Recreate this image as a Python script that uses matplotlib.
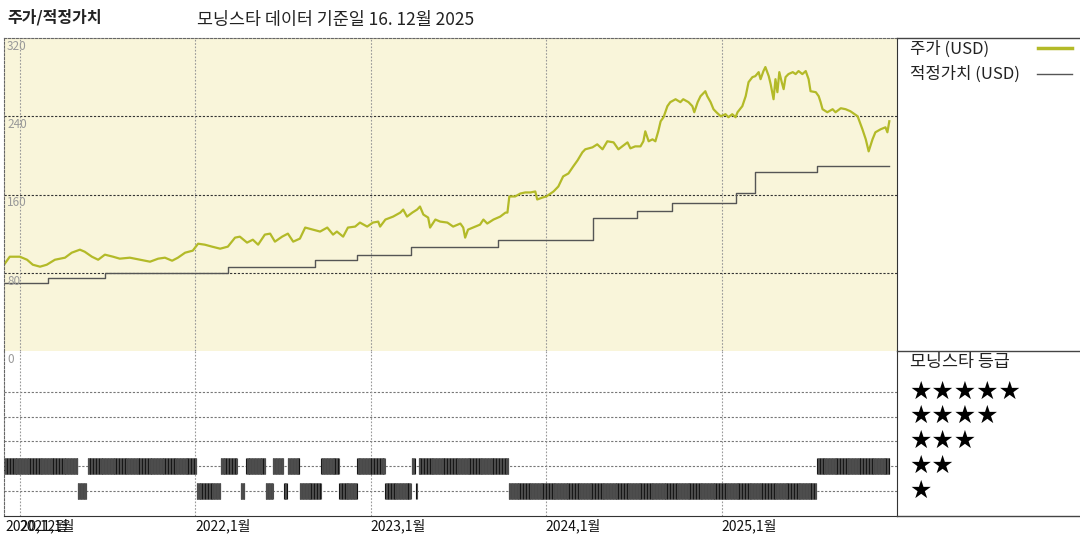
import numpy as np
import pandas as pd
import matplotlib
matplotlib.use("Agg")
import matplotlib.pyplot as plt
import matplotlib.dates as mdates
from matplotlib.lines import Line2D
from matplotlib.transforms import blended_transform_factory

plt.rcParams["font.family"] = ["Noto Sans CJK KR", "DejaVu Sans"]

# share price (USD)
price_dates = [
    "2020-11-29", "2020-12-11", "2021-01-01", "2021-01-16", "2021-01-28", "2021-02-12",
    "2021-02-26", "2021-03-15", "2021-04-05", "2021-04-19", "2021-05-06", "2021-05-16",
    "2021-05-31", "2021-06-13", "2021-06-27", "2021-07-14", "2021-07-28", "2021-08-18",
    "2021-09-08", "2021-09-29", "2021-10-16", "2021-10-30", "2021-11-14", "2021-11-26",
    "2021-12-11", "2021-12-27", "2022-01-07", "2022-01-21", "2022-02-05", "2022-02-22",
    "2022-03-10", "2022-03-25", "2022-04-04", "2022-04-19", "2022-05-01", "2022-05-12",
    "2022-05-26", "2022-06-06", "2022-06-16", "2022-07-01", "2022-07-13", "2022-07-24",
    "2022-08-07", "2022-08-18", "2022-09-03", "2022-09-18", "2022-10-03", "2022-10-15",
    "2022-10-23", "2022-11-05", "2022-11-15", "2022-11-30", "2022-12-10", "2022-12-25",
    "2023-01-06", "2023-01-17", "2023-01-21", "2023-02-01", "2023-02-17", "2023-03-04",
    "2023-03-10", "2023-03-18", "2023-03-29", "2023-04-08", "2023-04-14", "2023-04-21",
    "2023-05-01", "2023-05-05", "2023-05-16", "2023-05-26", "2023-06-10", "2023-06-22",
    "2023-07-07", "2023-07-13", "2023-07-17", "2023-07-23", "2023-08-07", "2023-08-17",
    "2023-08-24", "2023-09-01", "2023-09-14", "2023-09-28", "2023-10-09", "2023-10-13",
    "2023-10-17", "2023-10-29", "2023-11-09", "2023-11-19", "2023-11-30", "2023-12-10",
    "2023-12-14", "2023-12-25", "2024-01-02", "2024-01-17", "2024-01-27", "2024-02-06",
    "2024-02-17", "2024-02-27", "2024-03-07", "2024-03-17", "2024-03-23", "2024-04-07",
    "2024-04-17", "2024-04-28", "2024-05-08", "2024-05-21", "2024-05-31", "2024-06-08",
    "2024-06-19", "2024-06-25", "2024-07-05", "2024-07-16", "2024-07-22", "2024-07-26",
    "2024-08-02", "2024-08-10", "2024-08-16", "2024-08-22", "2024-08-27", "2024-09-02",
    "2024-09-10", "2024-09-16", "2024-09-27", "2024-10-07", "2024-10-13", "2024-10-24",
    "2024-11-01", "2024-11-05", "2024-11-12", "2024-11-18", "2024-11-28", "2024-12-02",
    "2024-12-09", "2024-12-15", "2024-12-21", "2024-12-30", "2025-01-09", "2025-01-15",
    "2025-01-23", "2025-01-30", "2025-02-03", "2025-02-13", "2025-02-20", "2025-02-26",
    "2025-03-06", "2025-03-12", "2025-03-19", "2025-03-23", "2025-03-29", "2025-04-02",
    "2025-04-09", "2025-04-13", "2025-04-19", "2025-04-23", "2025-04-27", "2025-05-01",
    "2025-05-06", "2025-05-10", "2025-05-14", "2025-05-20", "2025-05-29", "2025-06-04",
    "2025-06-10", "2025-06-18", "2025-06-25", "2025-07-01", "2025-07-05", "2025-07-16",
    "2025-07-22", "2025-07-26", "2025-07-30", "2025-08-09", "2025-08-20", "2025-08-26",
    "2025-09-06", "2025-09-16", "2025-09-26", "2025-10-11", "2025-10-21", "2025-10-28",
    "2025-11-03", "2025-11-11", "2025-11-17", "2025-11-28", "2025-12-08", "2025-12-12",
    "2025-12-16",
]
price_values = [
    88.2, 96.4, 96.4, 93.3, 88.2, 86.2,
    88.2, 93.3, 95.4, 100.5, 103.6, 101.5,
    96.4, 93.3, 98.5, 96.4, 94.4, 95.4,
    93.3, 91.3, 94.4, 95.4, 92.3, 95.4,
    100.5, 102.6, 109.7, 108.7, 106.7, 104.6,
    106.7, 115.9, 116.9, 110.8, 113.8, 108.7,
    119.0, 120.0, 111.8, 116.9, 120.0, 111.8,
    114.9, 126.2, 124.1, 122.1, 126.2, 119.0,
    122.1, 116.9, 126.2, 127.2, 131.3, 127.2,
    131.3, 132.3, 127.2, 134.4, 137.4, 141.5,
    144.6, 137.4, 141.5, 144.6, 147.7, 139.5,
    136.4, 126.2, 134.4, 132.3, 131.3, 127.2,
    130.3, 126.2, 115.9, 124.1, 127.2, 129.2,
    134.4, 130.3, 134.4, 137.4, 141.5, 141.5,
    158.0, 158.0, 161.0, 162.1, 162.1, 163.1,
    154.9, 156.9, 158.0, 163.1, 168.2, 178.5,
    181.5, 188.7, 194.9, 203.1, 206.2, 208.2,
    211.3, 206.2, 214.4, 213.3, 206.2, 209.2,
    213.3, 207.2, 209.2, 209.2, 214.4, 224.6,
    214.4, 216.4, 214.4, 224.6, 234.9, 239.0,
    250.3, 254.4, 257.4, 254.4, 257.4, 254.4,
    250.3, 244.1, 254.4, 260.5, 265.6, 260.5,
    254.4, 247.2, 244.1, 240.0, 242.1, 239.0,
    242.1, 239.0, 244.1, 250.3, 260.5, 274.9,
    280.0, 281.0, 285.1, 277.9, 286.2, 290.3,
    281.0, 272.8, 257.4, 277.9, 264.6, 285.1,
    274.9, 267.7, 280.0, 283.1, 285.1, 283.1,
    286.2, 283.1, 286.2, 277.9, 265.6, 264.6,
    260.5, 254.4, 247.2, 244.1, 247.2, 244.1,
    248.2, 247.2, 245.1, 240.0, 226.7, 216.4,
    204.1, 216.4, 223.6, 226.7, 228.7, 223.6,
    234.9,
]

# fair value (USD), step changes
fair_dates = [
    "2020-11-29", "2021-02-28", "2021-06-27", "2022-03-10", "2022-09-08", "2022-12-04",
    "2023-03-26", "2023-09-23", "2024-04-08", "2024-07-09", "2024-09-20", "2025-01-30",
    "2025-03-12", "2025-07-19", "2025-12-16",
]
fair_values = [70, 75, 80, 86, 93, 98.5, 106.7, 113.8, 136.4, 143, 150.8, 162, 182.6, 188.7, 188.7]

# Morningstar star rating periods
rating_start = [
    "2020-11-30", "2021-05-02", "2021-05-22", "2022-01-04", "2022-02-23", "2022-04-06",
    "2022-04-17", "2022-05-28", "2022-06-12", "2022-07-05", "2022-07-13", "2022-08-07",
    "2022-09-20", "2022-10-28", "2022-12-04", "2023-02-01", "2023-03-28", "2023-04-06",
    "2023-04-11", "2023-10-16", "2025-07-19",
]
rating_end = [
    "2021-05-01", "2021-05-19", "2022-01-03", "2022-02-22", "2022-03-29", "2022-04-13",
    "2022-05-27", "2022-06-11", "2022-07-03", "2022-07-11", "2022-08-06", "2022-09-19",
    "2022-10-27", "2022-12-03", "2023-01-31", "2023-03-26", "2023-04-03", "2023-04-07",
    "2023-10-15", "2025-07-17", "2025-12-16",
]
rating_value = [2, 1, 2, 1, 2, 1, 2, 1, 2, 1, 2, 1, 2, 1, 2, 1, 2, 1, 2, 1, 2]

year_ticks = ["2021-01-01", "2022-01-01", "2023-01-01", "2024-01-01", "2025-01-01"]
tick_dates = ["2020-12-01", "2021-01-01", "2022-01-01", "2023-01-01", "2024-01-01", "2025-01-01"]
tick_labels = ["2020,12월", "2021,1월", "2022,1월", "2023,1월", "2024,1월", "2025,1월"]
price_levels = [320, 240, 160, 80]

W, H = 1080, 540
fig = plt.figure(figsize=(W / 100, H / 100), dpi=100)


def px(x, y):
    return x / W, 1 - y / H


x0, x1 = 4, 897
top0, mid, bot = 38, 351, 516
xlim = (pd.Timestamp("2020-11-29"), pd.Timestamp("2026-01-01"))

ax = fig.add_axes([x0 / W, 1 - mid / H, (x1 - x0) / W, (mid - top0) / H])
axr = fig.add_axes([x0 / W, 1 - bot / H, (x1 - x0) / W, (bot - mid) / H])

# price panel
ax.set_facecolor("#f9f5da")
ax.set_xlim(*xlim)
ax.set_ylim(0, 320)
for yv in [80, 160, 240]:
    ax.axhline(yv, color="#333333", lw=0.8, ls=(0, (2, 1.5)))
for d in year_ticks:
    ax.axvline(pd.Timestamp(d), color="#999999", lw=0.8, ls=(0, (1.5, 1.5)))
ax.plot(pd.to_datetime(fair_dates), fair_values, drawstyle="steps-post",
        color="#555555", lw=1.0)
ax.plot(pd.to_datetime(price_dates), price_values, color="#b3ba28", lw=1.6)
ax.set_xticks([])
ax.set_yticks([])
for s in ["left", "top"]:
    ax.spines[s].set_linestyle((0, (2, 1.5)))
    ax.spines[s].set_color("#666666")
    ax.spines[s].set_linewidth(0.8)
ax.spines["bottom"].set_visible(False)
ax.spines["right"].set_color("#333333")

# rating panel
axr.set_xlim(*xlim)
axr.set_ylim(0, 6.64)
for yv in [1, 2, 3, 4, 5]:
    axr.axhline(yv, color="#777777", lw=0.8, ls=(0, (2, 1.5)))
for d in year_ticks:
    axr.axvline(pd.Timestamp(d), color="#999999", lw=0.8, ls=(0, (1.5, 1.5)))
for s, e, r in zip(rating_start, rating_end, rating_value):
    days = pd.date_range(s, e)
    shades = ["#111111" if i % 6 == 0 else "#4d4d4d" for i in range(len(days))]
    axr.vlines(days, r - 0.32, r + 0.32, colors=shades, lw=0.8)
axr.set_xticks([])
axr.set_yticks([])
axr.spines["left"].set_linestyle((0, (2, 1.5)))
axr.spines["left"].set_color("#666666")
axr.spines["left"].set_linewidth(0.8)
axr.spines["top"].set_visible(False)
axr.spines["bottom"].set_color("#333333")
axr.spines["right"].set_color("#333333")

trans = blended_transform_factory(axr.transData, axr.transAxes)
for d, lab in zip(tick_dates, tick_labels):
    axr.text(pd.Timestamp(d), -0.015, lab, transform=trans, ha="left", va="top",
             fontsize=10, color="#111111")

# y level labels
for yv in price_levels:
    ypix = mid - (mid - top0) * yv / 320
    fig.text(*px(7, ypix + 2), str(yv), ha="left", va="top", fontsize=8.5, color="#999999")
fig.text(*px(7, mid + 2), "0", ha="left", va="top", fontsize=8.5, color="#999999")

# frame lines across the legend column
for yy in [top0, mid, bot]:
    fig.add_artist(Line2D([x1 / W, 1], [1 - yy / H] * 2, color="#444444", lw=1.0))

# titles
fig.text(*px(7, 17), "주가/적정가치", ha="left", va="center", fontsize=11.5, fontweight="bold",
         color="#222222")
fig.text(*px(197, 20), "모닝스타 데이터 기준일 16. 12월 2025", ha="left", va="center",
         fontsize=12.5, color="#222222")

# legend
fig.text(*px(910, 49), "주가 (USD)", ha="left", va="center", fontsize=12, color="#222222")
fig.add_artist(Line2D([1038 / W, 1072 / W], [1 - 48 / H] * 2, color="#b3ba28", lw=2.5))
fig.text(*px(910, 74), "적정가치 (USD)", ha="left", va="center", fontsize=12, color="#222222")
fig.add_artist(Line2D([1037 / W, 1072 / W], [1 - 74 / H] * 2, color="#555555", lw=1.0))

fig.text(*px(910, 362), "모닝스타 등급", ha="left", va="center", fontsize=12.5, color="#222222")
for n, yy in zip([5, 4, 3, 2, 1], [392, 416, 441, 466, 491]):
    fig.text(*px(909, yy), "★" * n, ha="left", va="center", fontsize=18, color="black",
             family="DejaVu Sans")

fig.savefig("out.png", dpi=100)
